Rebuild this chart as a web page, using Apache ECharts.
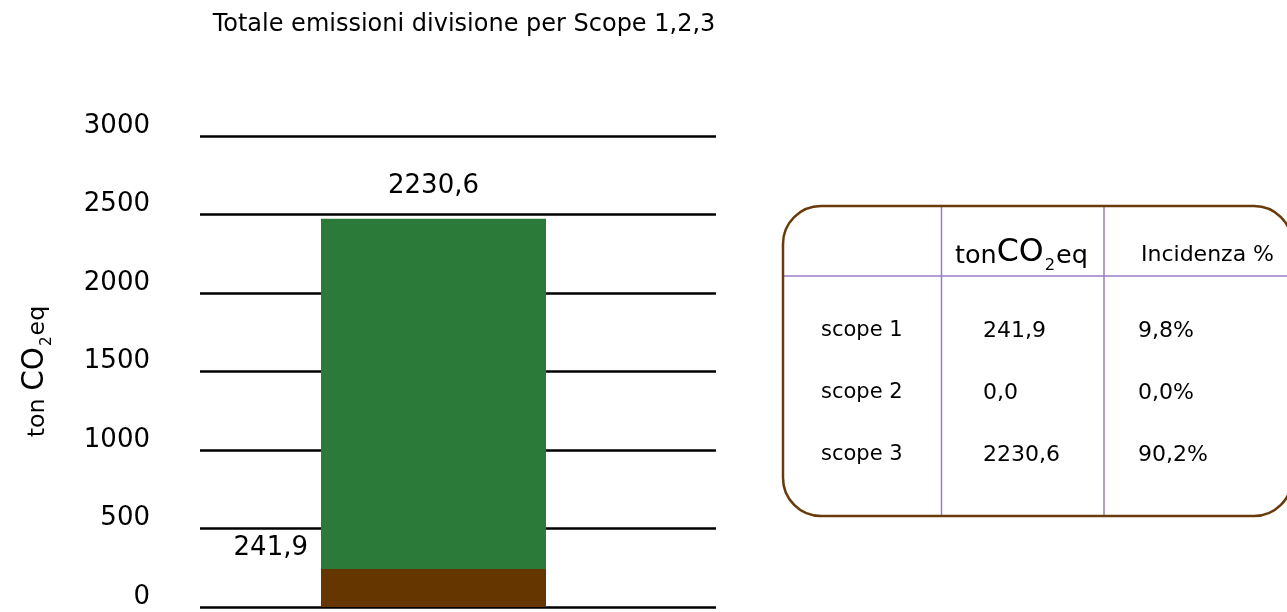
<!DOCTYPE html>
<html>
<head>
<meta charset="utf-8">
<script src="https://cdn.jsdelivr.net/npm/echarts@6/dist/echarts.min.js"></script>
<style>
  html, body { margin: 0; padding: 0; background: #fff; }
  #chart { width: 1287px; height: 612px; }
</style>
</head>
<body>
<div id="chart"></div>
<script>
// Emissions by scope (ton CO2eq)
const scopes = ['scope 1', 'scope 2', 'scope 3'];
const tonValues = [241.9, 0.0, 2230.6];
const scopeColors = ['#663600', '#8a8a8a', '#2b7a39'];
const categories = ['Totale'];
const yTicks = { min: 0, max: 3000, interval: 500 };

const FONT = '"DejaVu Sans"';
const INK = '#000';
const fmt = v => v.toFixed(1).replace('.', ',');
const total = tonValues.reduce((a, b) => a + b, 0);
const shares = tonValues.map(v => fmt(v / total * 100) + '%');

const chart = echarts.init(document.getElementById('chart'));

// stacked column, one segment per scope
const series = scopes.map((name, i) => ({
  name,
  type: 'bar',
  stack: 'tot',
  xAxisIndex: 1,
  yAxisIndex: 1,
  barWidth: 225,
  data: [tonValues[i]],
  itemStyle: { color: scopeColors[i] },
  label: { show: false }
}));
series[0].label = {
  show: true, position: 'left', distance: 13, offset: [0, -40],
  formatter: p => fmt(p.value), fontFamily: FONT, fontSize: 26, color: INK
};
series[2].label = {
  show: true, position: 'top', distance: 20,
  formatter: p => fmt(p.value), fontFamily: FONT, fontSize: 26, color: INK
};

// summary table beside the chart
const T = { left: 783, top: 206, right: 1292, bottom: 516, col1: 941.5, col2: 1104, head: 276 };
const rowY = [331, 393, 455];
const tableStroke = '#6b3a0a';
const rule = '#9a7cc6';
const txt = (x, y, text, size) => ({
  type: 'text', x, y,
  style: { text, fill: INK, font: `${size}px ${FONT}`, textAlign: 'left', textVerticalAlign: 'middle' }
});
const co2Rich = (fill, key, s) => ({
  a: { fontFamily: FONT, fontSize: 25 * s, [key]: fill, verticalAlign: 'bottom' },
  b: { fontFamily: FONT, fontSize: 31 * s, [key]: fill, verticalAlign: 'bottom' },
  c: { fontFamily: FONT, fontSize: 16 * s, [key]: fill, verticalAlign: 'bottom', padding: [0, 1, -5, 1] }
});
const graphics = [
  { type: 'line', shape: { x1: T.col1, y1: T.top, x2: T.col1, y2: T.bottom }, style: { stroke: rule, lineWidth: 1.5 } },
  { type: 'line', shape: { x1: T.col2, y1: T.top, x2: T.col2, y2: T.bottom }, style: { stroke: rule, lineWidth: 1.5 } },
  { type: 'line', shape: { x1: T.left, y1: T.head, x2: 1287, y2: T.head }, style: { stroke: rule, lineWidth: 1.5 } },
  { type: 'rect', shape: { x: T.left, y: T.top, width: T.right - T.left, height: T.bottom - T.top, r: 38 },
    style: { fill: 'none', stroke: tableStroke, lineWidth: 2.5 } },
  {
    type: 'text', x: 955, y: 253,
    style: { text: '{a|ton}{b|CO}{c|2}{a|eq}', textVerticalAlign: 'middle', rich: co2Rich(INK, 'fill', 1.02) }
  },
  txt(1141, 255, 'Incidenza %', 22)
];
scopes.forEach((s, i) => {
  graphics.push(txt(821, rowY[i], s, 21));
  graphics.push(txt(983, rowY[i], fmt(tonValues[i]), 22));
  graphics.push(txt(1138, rowY[i], shares[i], 22));
});

const hiddenCat = {
  type: 'category', data: categories,
  axisLine: { show: false }, axisTick: { show: false }, axisLabel: { show: false }
};

chart.setOption({
  animation: false,
  backgroundColor: '#fff',
  title: {
    text: 'Totale emissioni divisione per Scope 1,2,3',
    left: 459, top: 8, textAlign: 'center',
    textStyle: { fontFamily: FONT, fontSize: 24, fontWeight: 'normal', color: INK }
  },
  grid: [
    // frame for the value axis and its gridlines
    { left: 200, top: 136, width: 516, bottom: 5 },
    // frame holding the column
    { left: 200, top: 136, width: 467, bottom: 5 }
  ],
  xAxis: [
    Object.assign({ gridIndex: 0 }, hiddenCat),
    Object.assign({ gridIndex: 1 }, hiddenCat)
  ],
  yAxis: [
    {
      gridIndex: 0,
      type: 'value', min: yTicks.min, max: yTicks.max, interval: yTicks.interval,
      axisLine: { show: false }, axisTick: { show: false },
      splitLine: { lineStyle: { color: INK, width: 2.5 } },
      axisLabel: {
        fontFamily: FONT, fontSize: 26, color: INK, margin: 50,
        verticalAlign: 'bottom', lineHeight: 20,
        formatter: v => String(v)
      },
      name: '{a|ton }{b|CO}{c|2}{a|eq}',
      nameLocation: 'middle', nameRotate: 90, nameGap: 150,
      nameTextStyle: { rich: co2Rich(INK, 'color', 0.95) }
    },
    {
      gridIndex: 1,
      type: 'value', min: yTicks.min, max: yTicks.max, interval: yTicks.interval,
      show: false, splitLine: { show: false }
    }
  ],
  series,
  graphic: graphics
});
</script>
</body>
</html>
